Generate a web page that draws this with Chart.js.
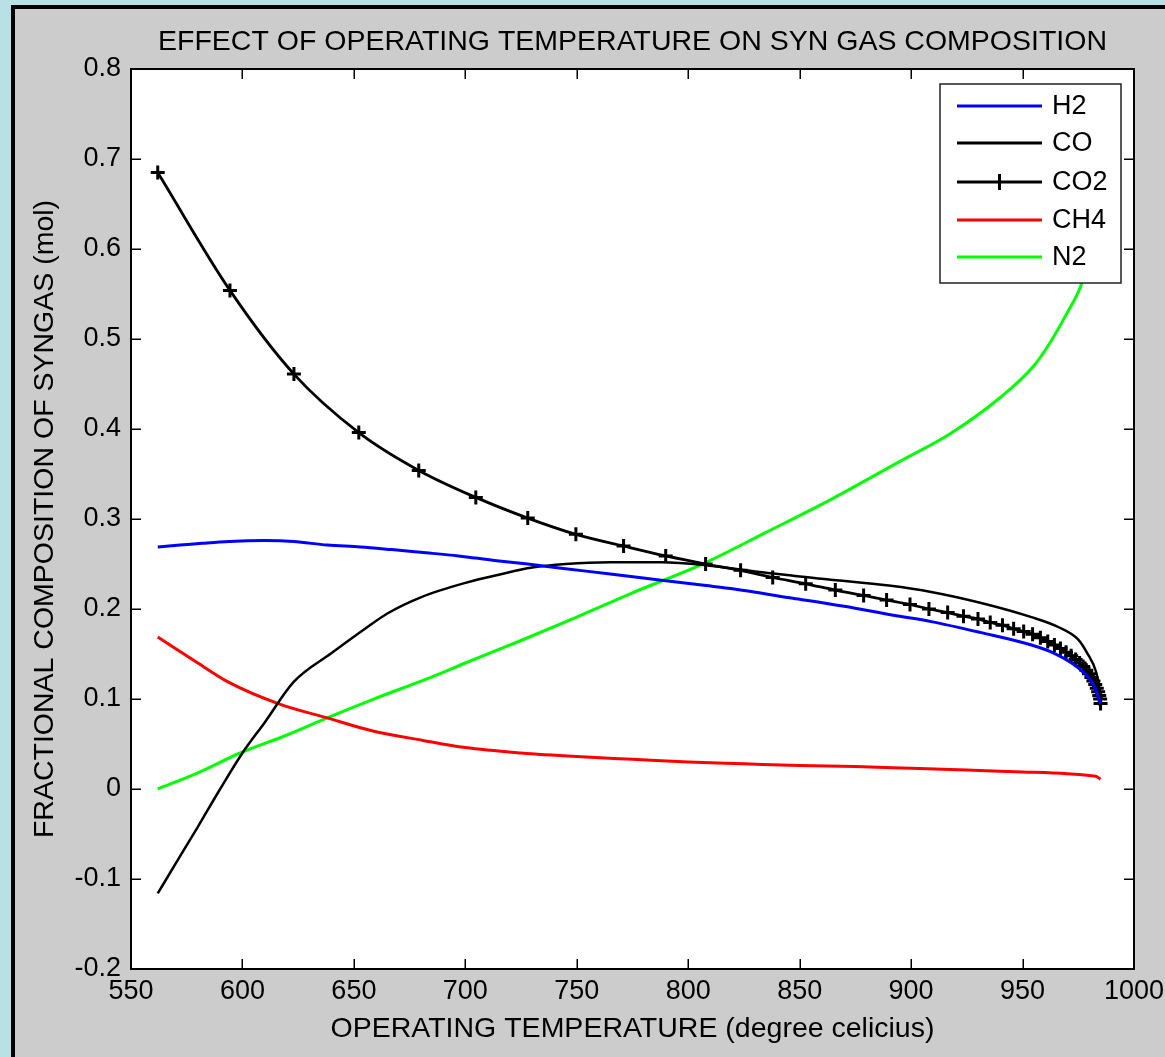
<!DOCTYPE html>
<html>
<head>
<meta charset="utf-8">
<script src="https://cdn.jsdelivr.net/npm/chart.js@4.4.1/dist/chart.umd.min.js"></script>
<style>
  html, body { margin: 0; padding: 0; background: #b9e0e4; }
  canvas { display: block; }
</style>
</head>
<body>
<canvas id="c" width="1165" height="1057"></canvas>
<script>
// ---------- DATA ----------
const xTicks = [550, 600, 650, 700, 750, 800, 850, 900, 950, 1000];
const xTickLabels = ['550', '600', '650', '700', '750', '800', '850', '900', '950', '1000'];
const yTicks = [-0.2, -0.1, 0, 0.1, 0.2, 0.3, 0.4, 0.5, 0.6, 0.7, 0.8];
const yTickLabels = ['-0.2', '-0.1', '0', '0.1', '0.2', '0.3', '0.4', '0.5', '0.6', '0.7', '0.8'];

const seriesNames = ['H2', 'CO', 'CO2', 'CH4', 'N2'];

const h2Temp = [562, 572, 582, 594, 610, 623, 638, 653, 667, 680, 697, 713, 728, 744, 765, 788, 808, 818, 847, 870, 892, 909, 931, 954, 964, 972, 978, 982, 985];
const h2 = [0.269, 0.271, 0.273, 0.275, 0.276, 0.275, 0.271, 0.269, 0.266, 0.263, 0.259, 0.254, 0.250, 0.245, 0.239, 0.232, 0.226, 0.223, 0.212, 0.203, 0.193, 0.186, 0.174, 0.160, 0.151, 0.140, 0.128, 0.115, 0.095];

const coTemp = [562, 570, 580, 590, 600, 610, 623, 640, 655, 665, 680, 700, 715, 730, 745, 765, 788, 807, 832, 862, 890, 909, 931, 954, 966, 975, 979, 983, 985.5];
const co = [-0.116, -0.083, -0.042, 0.000, 0.040, 0.074, 0.119, 0.151, 0.178, 0.195, 0.213, 0.229, 0.238, 0.246, 0.250, 0.252, 0.252, 0.249, 0.241, 0.233, 0.226, 0.219, 0.207, 0.191, 0.180, 0.166, 0.151, 0.130, 0.100];

const co2Temp = [562, 594.4, 623.1, 652.2, 679.1, 704.7, 728, 749.6, 771, 789.9, 807.8, 823.5, 837.9, 852.7, 866, 878.7, 889, 899.5, 908, 916.4, 923.5, 930, 935.5, 941, 946, 950.5, 954.5, 958, 961.3, 964.3, 967, 969.5, 971.8, 973.8, 975.6, 977.2, 978.6, 979.8, 980.9, 981.8, 982.6, 983.3, 983.9, 984.4, 984.8, 985];
const co2 = [0.685, 0.554, 0.461, 0.396, 0.354, 0.324, 0.301, 0.283, 0.270, 0.259, 0.250, 0.243, 0.235, 0.228, 0.221, 0.215, 0.210, 0.205, 0.200, 0.196, 0.192, 0.189, 0.185, 0.182, 0.178, 0.175, 0.172, 0.168, 0.164, 0.160, 0.156, 0.152, 0.148, 0.144, 0.140, 0.136, 0.132, 0.128, 0.124, 0.120, 0.116, 0.112, 0.108, 0.104, 0.100, 0.095];

const ch4Temp = [562, 580, 593.5, 617, 638, 657.6, 681, 700, 725, 750, 775, 800, 825, 850, 875, 900, 925, 950, 970, 980, 983, 985];
const ch4 = [0.169, 0.140, 0.119, 0.094, 0.079, 0.065, 0.054, 0.046, 0.040, 0.036, 0.033, 0.030, 0.028, 0.026, 0.025, 0.023, 0.021, 0.019, 0.017, 0.015, 0.014, 0.011];

const n2Temp = [562, 580, 599, 620, 638, 660, 684.5, 700, 725, 750, 775, 805.6, 835.6, 865, 895, 917.7, 940, 955, 962.6, 970, 976, 980, 983];
const n2 = [0.000, 0.018, 0.040, 0.060, 0.079, 0.101, 0.124, 0.140, 0.165, 0.191, 0.218, 0.249, 0.286, 0.323, 0.364, 0.395, 0.435, 0.470, 0.497, 0.529, 0.558, 0.590, 0.630];

// ---------- BUILD ----------
const pts = (xs, ys) => xs.map((x, i) => ({ x: x, y: ys[i] }));

Chart.defaults.font.family = "'Liberation Sans', Arial, Helvetica, sans-serif";
Chart.defaults.color = '#000';

const FONT = 27;
const TFONT = 28.5;

const bgPlugin = {
  id: 'bg',
  beforeDraw(chart) {
    const { ctx, width, height, chartArea: a } = chart;
    ctx.save();
    ctx.fillStyle = '#b9e0e4';
    ctx.fillRect(0, 0, width, height);
    ctx.fillStyle = '#000';
    ctx.fillRect(11, 5, width, height);
    ctx.fillStyle = '#cccccc';
    ctx.fillRect(15, 9, width, height);
    ctx.fillStyle = '#ffffff';
    ctx.fillRect(a.left, a.top, a.right - a.left, a.bottom - a.top);
    ctx.restore();
  }
};

const framePlugin = {
  id: 'frame',
  afterDatasetsDraw(chart) {
    const { ctx, chartArea: a, scales } = chart;
    ctx.save();
    ctx.strokeStyle = '#000';
    ctx.lineWidth = 2;
    ctx.strokeRect(a.left, a.top, a.right - a.left, a.bottom - a.top);
    ctx.lineWidth = 1.5;
    const L = 10;
    ctx.beginPath();
    scales.x.ticks.forEach(t => {
      const px = Math.round(scales.x.getPixelForValue(t.value)) + 0.25;
      ctx.moveTo(px, a.bottom); ctx.lineTo(px, a.bottom - L);
      ctx.moveTo(px, a.top); ctx.lineTo(px, a.top + L);
    });
    scales.y.ticks.forEach(t => {
      const py = Math.round(scales.y.getPixelForValue(t.value)) + 0.25;
      ctx.moveTo(a.left, py); ctx.lineTo(a.left + L, py);
      ctx.moveTo(a.right, py); ctx.lineTo(a.right - L, py);
    });
    ctx.stroke();

    // legend box (drawn over the data, like the original)
    const bx = 940, by = 84, bw = 181, bh = 199;
    ctx.fillStyle = '#fff';
    ctx.fillRect(bx, by, bw, bh);
    ctx.lineWidth = 1.5;
    ctx.strokeStyle = '#222';
    ctx.strokeRect(bx, by, bw, bh);
    const rows = [106, 143, 182, 220, 257];
    ctx.font = `27px ${Chart.defaults.font.family}`;
    ctx.textBaseline = 'middle';
    ctx.textAlign = 'left';
    chart.data.datasets.forEach((ds, i) => {
      const y = rows[i];
      ctx.strokeStyle = ds.borderColor;
      ctx.lineWidth = 3;
      ctx.beginPath();
      ctx.moveTo(957, y); ctx.lineTo(1042, y);
      ctx.stroke();
      if (ds.pointRadius > 0) {
        ctx.lineWidth = 3;
        ctx.beginPath();
        ctx.moveTo(999.5, y - 8); ctx.lineTo(999.5, y + 8);
        ctx.stroke();
      }
      ctx.fillStyle = '#000';
      ctx.fillText(ds.label, 1052, y + 1);
    });
    ctx.restore();
  }
};

const lineDs = (label, xs, ys, color, w) => ({
  label: label,
  data: pts(xs, ys),
  borderColor: color,
  backgroundColor: color,
  borderWidth: w,
  pointRadius: 0,
  pointHoverRadius: 0,
  fill: false,
  cubicInterpolationMode: 'monotone'
});

const co2Ds = Object.assign(lineDs(seriesNames[2], co2Temp, co2, '#000000', 2.8), {
  pointRadius: 7,
  pointStyle: 'cross',
  pointBorderWidth: 3,
  pointBorderColor: '#000000'
});

new Chart(document.getElementById('c'), {
  type: 'line',
  data: {
    datasets: [
      lineDs(seriesNames[0], h2Temp, h2, '#0000ff', 3),
      lineDs(seriesNames[1], coTemp, co, '#000000', 2.5),
      co2Ds,
      lineDs(seriesNames[3], ch4Temp, ch4, '#ff0000', 3),
      lineDs(seriesNames[4], n2Temp, n2, '#00ff00', 3)
    ]
  },
  options: {
    responsive: false,
    animation: false,
    devicePixelRatio: 1,
    events: [],
    layout: { padding: { left: 0, right: 31, top: 0, bottom: 0 } },
    plugins: {
      legend: { display: false },
      tooltip: { enabled: false },
      title: {
        display: true,
        text: 'EFFECT OF OPERATING TEMPERATURE ON SYN GAS COMPOSITION',
        fullSize: false,
        color: '#000',
        font: { size: TFONT, weight: 'normal' },
        padding: { top: 25, bottom: 9.8 }
      }
    },
    scales: {
      x: {
        type: 'linear',
        min: 550, max: 1000,
        afterBuildTicks: s => { s.ticks = xTicks.map(v => ({ value: v })); },
        afterFit: s => { s.height = 88; s.paddingLeft = 0; s.paddingRight = 0; },
        grid: { display: false, drawTicks: false },
        border: { display: false },
        ticks: {
          padding: 6,
          maxRotation: 0,
          autoSkip: false,
          font: { size: FONT },
          color: '#000',
          callback: (v, i) => xTickLabels[i]
        },
        title: {
          display: true,
          text: 'OPERATING TEMPERATURE (degree celicius)',
          color: '#000',
          font: { size: TFONT },
          padding: { top: 0, bottom: 11 }
        }
      },
      y: {
        type: 'linear',
        min: -0.2, max: 0.8,
        afterBuildTicks: s => { s.ticks = yTicks.map(v => ({ value: v })); },
        afterFit: s => { s.width = 131; s.paddingTop = 0; s.paddingBottom = 0; },
        grid: { display: false, drawTicks: false },
        border: { display: false },
        ticks: {
          padding: 10,
          autoSkip: false,
          font: { size: FONT },
          color: '#000',
          callback: (v, i) => yTickLabels[i]
        },
        title: {
          display: true,
          text: 'FRACTIONAL COMPOSITION OF SYNGAS (mol)',
          color: '#000',
          font: { size: TFONT },
          padding: { top: 28, bottom: 0 }
        }
      }
    }
  },
  plugins: [bgPlugin, framePlugin]
});
</script>
</body>
</html>
